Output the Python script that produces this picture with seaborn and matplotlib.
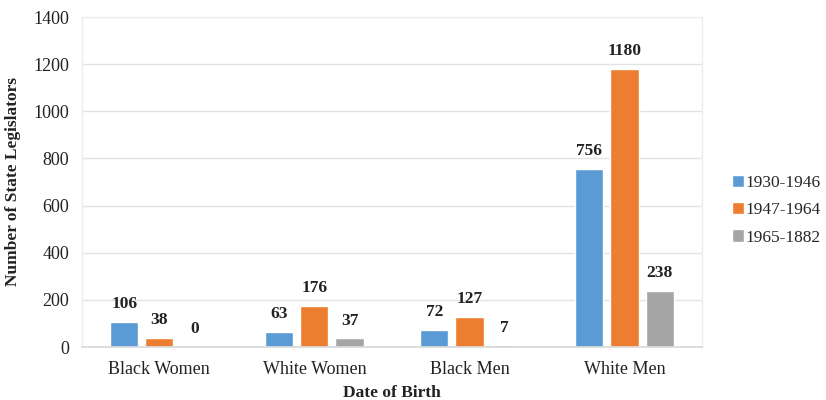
import matplotlib
matplotlib.use("Agg")
import matplotlib.pyplot as plt
import seaborn as sns
import pandas as pd

groups = ["Black Women", "White Women", "Black Men", "White Men"]
cohorts = ["1930-1946", "1947-1964", "1965-1882"]
v_1930_1946 = [106, 63, 72, 756]
v_1947_1964 = [38, 176, 127, 1180]
v_1965_1882 = [0, 37, 7, 238]
colors = ["#5B9BD5", "#ED7D31", "#A5A5A5"]

rows = []
for cohort, vals in zip(cohorts, [v_1930_1946, v_1947_1964, v_1965_1882]):
    for g, v in zip(groups, vals):
        rows.append({"group": g, "cohort": cohort, "count": v})
df = pd.DataFrame(rows)

sns.set_theme(style="white")
plt.rcParams["font.family"] = ["Liberation Serif", "DejaVu Serif"]

fig = plt.figure(figsize=(8.26, 4.0), dpi=100)
ax = fig.add_axes([0.099, 0.1325, 0.751, 0.825])

sns.barplot(data=df, x="group", y="count", hue="cohort", order=groups,
            hue_order=cohorts, palette=colors, width=0.68, gap=0.2,
            saturation=1, errorbar=None, ax=ax, legend=True)

for cont in ax.containers:
    ax.bar_label(cont, labels=[f"{int(b.get_height())}" for b in cont],
                 padding=7, fontsize=12.5, fontweight="bold", color="#222222")

ax.set_ylim(0, 1400)
ax.set_yticks(range(0, 1401, 200))
ax.set_xlim(-0.5, 3.5)
ax.yaxis.grid(True, color="#E3E3E3", linewidth=1)
ax.set_axisbelow(True)
for side in ["left", "right", "top"]:
    ax.spines[side].set_color("#EDEDED")
    ax.spines[side].set_linewidth(1)
ax.spines["bottom"].set_color("#D9D9D9")
ax.tick_params(axis="y", labelsize=13, colors="#222222", length=0, pad=9)
ax.tick_params(axis="x", labelsize=13, colors="#222222", length=0, pad=10)

ax.set_xlabel("Date of Birth", fontsize=12.5, fontweight="bold", color="#222222", labelpad=5)
ax.set_ylabel("Number of State Legislators", fontsize=12.5, fontweight="bold", color="#222222", labelpad=9)

leg = ax.legend(loc="center left", bbox_to_anchor=(1.042, 0.415), frameon=False,
                fontsize=12.5, handlelength=0.7, handleheight=0.7,
                handletextpad=0.1, labelspacing=0.65, title=None,
                borderaxespad=0.0, borderpad=0.2)

fig.savefig("out.png", dpi=100)
